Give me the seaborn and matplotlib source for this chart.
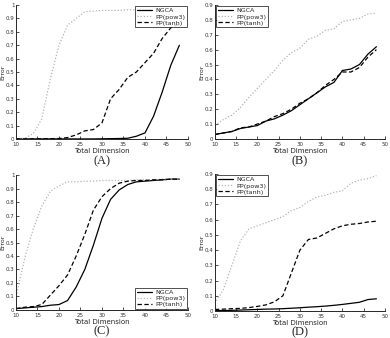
import numpy as np
import pandas as pd
import matplotlib
matplotlib.use('Agg')
import matplotlib.pyplot as plt
import seaborn as sns

dims = [10, 12, 14, 16, 18, 20, 22, 24, 26, 28, 30, 32, 34, 36, 38, 40, 42, 44, 46, 48]

# panel A
a_ngca = [0, 0, 0, 0, 0, 0, 0, 0, 0, 0, 0.001, 0.002, 0.003, 0.005, 0.02, 0.045, 0.17, 0.35, 0.55, 0.70]
a_pow3 = [0, 0.005, 0.04, 0.15, 0.45, 0.70, 0.85, 0.90, 0.95, 0.955, 0.96, 0.96, 0.96, 0.965, 0.965, 0.97, 0.97, 0.97, 0.97, 0.97]
a_tanh = [0, 0, 0, 0.001, 0.002, 0.003, 0.01, 0.03, 0.06, 0.07, 0.12, 0.30, 0.37, 0.46, 0.50, 0.57, 0.64, 0.75, 0.83, 0.86]

# panel B
b_ngca = [0.03, 0.04, 0.05, 0.07, 0.08, 0.09, 0.12, 0.135, 0.16, 0.19, 0.23, 0.27, 0.31, 0.35, 0.38, 0.46, 0.47, 0.50, 0.57, 0.62]
b_pow3 = [0.09, 0.13, 0.16, 0.21, 0.28, 0.34, 0.40, 0.46, 0.53, 0.58, 0.61, 0.67, 0.69, 0.73, 0.74, 0.79, 0.80, 0.81, 0.84, 0.845]
b_tanh = [0.03, 0.04, 0.05, 0.075, 0.08, 0.10, 0.12, 0.15, 0.17, 0.20, 0.24, 0.27, 0.31, 0.36, 0.40, 0.45, 0.45, 0.48, 0.55, 0.60]

# panel C
c_ngca = [0.01, 0.015, 0.02, 0.025, 0.035, 0.04, 0.07, 0.17, 0.30, 0.48, 0.68, 0.82, 0.89, 0.93, 0.95, 0.955, 0.96, 0.965, 0.97, 0.97]
c_pow3 = [0.10, 0.38, 0.60, 0.77, 0.88, 0.92, 0.95, 0.95, 0.955, 0.955, 0.96, 0.96, 0.96, 0.96, 0.965, 0.965, 0.965, 0.97, 0.97, 0.97]
c_tanh = [0.01, 0.02, 0.025, 0.04, 0.11, 0.18, 0.26, 0.40, 0.56, 0.74, 0.84, 0.90, 0.94, 0.955, 0.96, 0.96, 0.965, 0.965, 0.97, 0.97]

# panel D
d_ngca = [0.002, 0.003, 0.004, 0.006, 0.008, 0.010, 0.012, 0.013, 0.015, 0.018, 0.021, 0.025, 0.028, 0.032, 0.037, 0.043, 0.050, 0.057, 0.075, 0.080]
d_pow3 = [0.05, 0.14, 0.30, 0.46, 0.54, 0.56, 0.58, 0.60, 0.62, 0.66, 0.68, 0.72, 0.75, 0.76, 0.78, 0.79, 0.84, 0.86, 0.87, 0.89]
d_tanh = [0.01, 0.012, 0.015, 0.017, 0.022, 0.03, 0.04, 0.06, 0.10, 0.25, 0.40, 0.47, 0.48, 0.51, 0.54, 0.56, 0.57, 0.575, 0.585, 0.59]

methods = ['NGCA', 'PP(pow3)', 'PP(tanh)']
colors = {'NGCA': 'black', 'PP(pow3)': '#b4b4b4', 'PP(tanh)': 'black'}
styles = {'NGCA': '-', 'PP(pow3)': (0, (1, 1.5)), 'PP(tanh)': (0, (3.5, 2))}

panels = [
    ('(A)', [a_ngca, a_pow3, a_tanh], 1.0, 'upper right', -0.125),
    ('(B)', [b_ngca, b_pow3, b_tanh], 0.9, 'upper left', -0.125),
    ('(C)', [c_ngca, c_pow3, c_tanh], 1.0, 'lower right', -0.115),
    ('(D)', [d_ngca, d_pow3, d_tanh], 0.9, 'upper left', -0.11),
]

rects = [
    [0.041, 0.589, 0.441, 0.396],
    [0.551, 0.589, 0.436, 0.396],
    [0.041, 0.083, 0.441, 0.399],
    [0.551, 0.080, 0.436, 0.405],
]

sns.set_style('ticks')
plt.rcParams['font.family'] = ['DejaVu Sans']

fig = plt.figure(figsize=(3.9, 3.38), dpi=100)

for (letter, series, ymax, loc, ly), rect in zip(panels, rects):
    ax = fig.add_axes(rect)
    for m, vals in zip(methods, series):
        d = pd.DataFrame({'dim': dims, 'err': vals})
        sns.lineplot(data=d, x='dim', y='err', ax=ax, color=colors[m],
                     linestyle=styles[m], linewidth=0.9, label=m)
    ax.set_xlim(10, 50)
    ax.set_ylim(0, ymax)
    ax.set_xticks(np.arange(10, 51, 5))
    yt = np.round(np.arange(0, ymax + 0.001, 0.1), 1)
    ax.set_yticks(yt)
    ax.set_yticklabels(['0' if v == 0 else ('1' if v == 1 else '{:g}'.format(v)) for v in yt])
    ax.tick_params(direction='in', length=2, width=0.6, labelsize=4.0, pad=1.0, colors='#333333')
    ax.tick_params(axis='x', pad=2.2)
    for s in ['top', 'right']:
        ax.spines[s].set_visible(False)
    for s in ['left', 'bottom']:
        ax.spines[s].set_linewidth(0.7)
    ax.set_xlabel('Total Dimension', fontsize=5, labelpad=1.0)
    ax.set_ylabel('Error', fontsize=4.5)
    ax.yaxis.set_label_coords(-0.062, 0.5)
    leg = ax.legend(loc=loc, fontsize=4.6, frameon=True, fancybox=False,
                    borderpad=0.25, labelspacing=0.1, handlelength=2.4,
                    handletextpad=0.5, borderaxespad=0.2)
    leg.get_frame().set_edgecolor('black')
    leg.get_frame().set_linewidth(0.6)
    ax.text(0.5, ly, letter, transform=ax.transAxes, ha='center', va='top',
            fontsize=9, family='Liberation Serif')

fig.savefig('out.png', dpi=100)
